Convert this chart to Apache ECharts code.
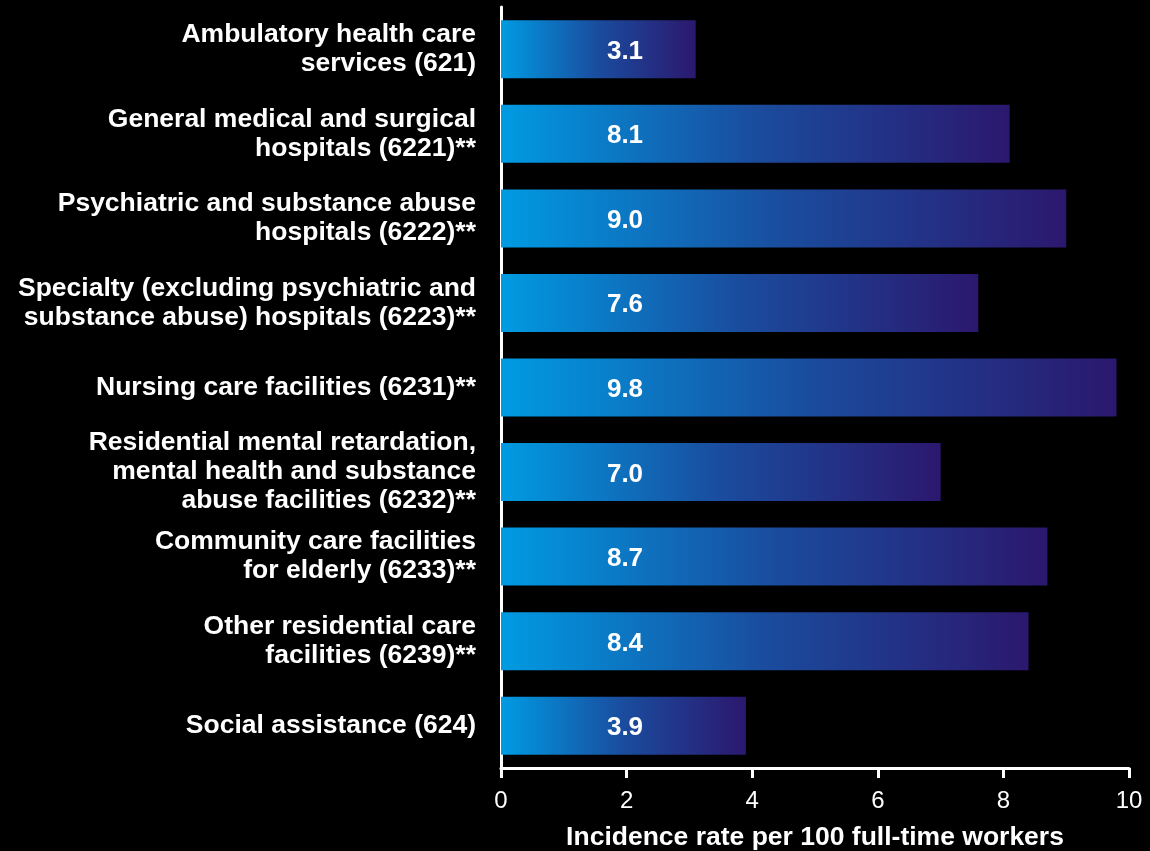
<!DOCTYPE html>
<html><head><meta charset="utf-8">
<script src="https://cdn.jsdelivr.net/npm/echarts@6/dist/echarts.min.js"></script>
<style>html,body{margin:0;padding:0;background:#000;}#c{width:1150px;height:851px;}</style>
</head><body><div id="c"></div>
<script>
const categories = [
  "Ambulatory health care\nservices (621)",
  "General medical and surgical\nhospitals (6221)**",
  "Psychiatric and substance abuse\nhospitals (6222)**",
  "Specialty (excluding psychiatric and\nsubstance abuse) hospitals (6223)**",
  "Nursing care facilities (6231)**",
  "Residential mental retardation,\nmental health and substance\nabuse facilities (6232)**",
  "Community care facilities\nfor elderly (6233)**",
  "Other residential care\nfacilities (6239)**",
  "Social assistance (624)"
];
const values = [3.1, 8.1, 9.0, 7.6, 9.8, 7.0, 8.7, 8.4, 3.9];
const xTicks = [0, 2, 4, 6, 8, 10];
const xName = "Incidence rate per 100 full-time workers";

const FONT = '"Liberation Sans", Arial, sans-serif';
const chart = echarts.init(document.getElementById('c'));
chart.setOption({
  backgroundColor: '#000',
  animation: false,
  grid: { left: 501, right: 21, top: 7, bottom: 83, containLabel: false, outerBoundsMode: 'none' },
  xAxis: {
    type: 'value', min: xTicks[0], max: xTicks[xTicks.length-1], interval: 2,
    name: xName, nameLocation: 'middle', nameGap: 56,
    nameTextStyle: { color: '#fff', fontSize: 26.5, fontWeight: 'bold', fontFamily: FONT },
    axisLine: { show: true, lineStyle: { color: '#fff', width: 3 } },
    axisTick: { show: true, length: 10, lineStyle: { color: '#fff', width: 3 } },
    axisLabel: { color: '#fff', fontSize: 24, margin: 21, fontFamily: FONT,
      formatter: v => String(v) },
    splitLine: { show: false }
  },
  yAxis: {
    type: 'category', data: categories, inverse: true,
    axisLine: { show: true, lineStyle: { color: '#fff', width: 3 } },
    axisTick: { show: false },
    axisLabel: { color: '#fff', fontSize: 26.5, fontWeight: 'bold', lineHeight: 29, margin: 25, align: 'right',
      fontFamily: FONT }
  },
  series: [{
    type: 'bar', data: values, barWidth: '68.6%',
    itemStyle: {
      color: new echarts.graphic.LinearGradient(0, 0, 1, 0, [
        { offset: 0, color: '#009be2' },
        { offset: 0.5, color: '#1a4c9e' },
        { offset: 1, color: '#2b186e' }
      ])
    },
    label: {
      show: true, position: [124, '54%'], align: 'center', verticalAlign: 'middle',
      color: '#fff', fontSize: 26, fontWeight: 'bold', fontFamily: FONT,
      formatter: p => p.value.toFixed(1)
    }
  }]
});
</script></body></html>
